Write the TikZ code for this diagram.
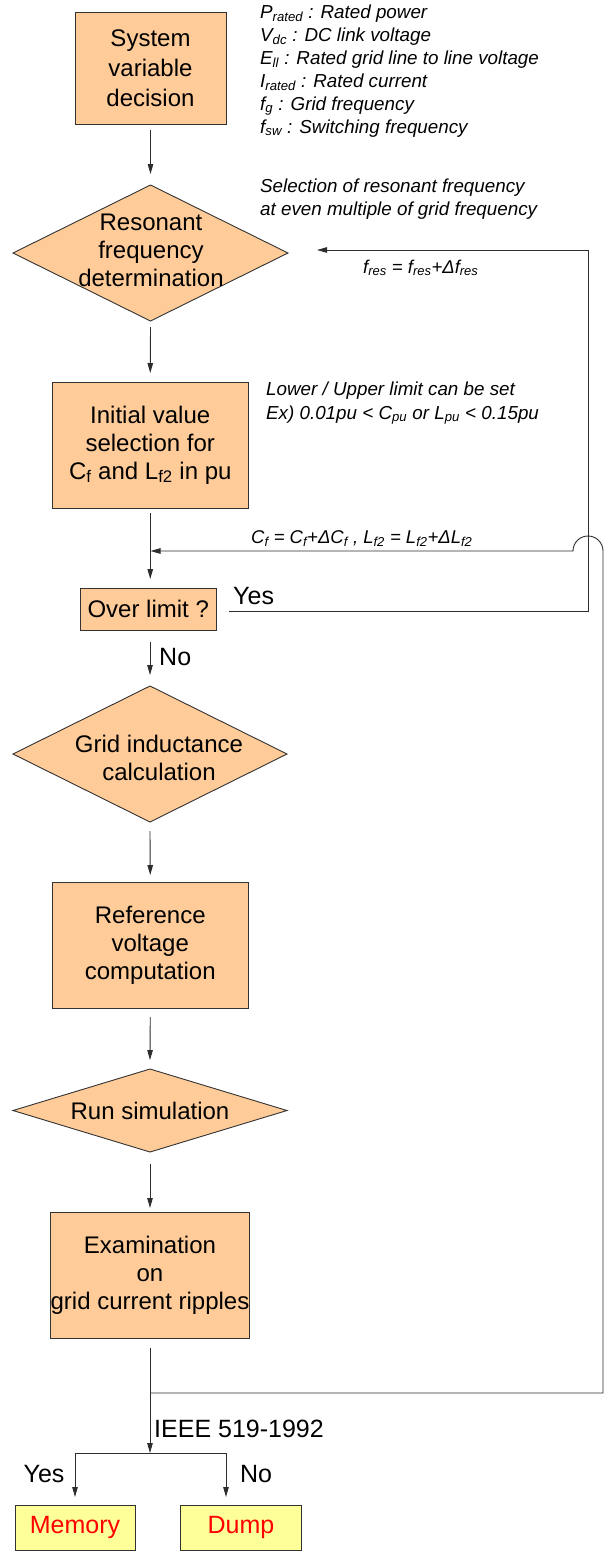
\documentclass[tikz,border=0pt]{standalone}
\usepackage{fontspec}
\setmainfont{Liberation Sans}
\usetikzlibrary{shapes.geometric,arrows.meta}
\definecolor{peach}{RGB}{255,204,153}
\definecolor{lyellow}{RGB}{255,255,153}
\definecolor{edgec}{RGB}{50,50,50}
\definecolor{wirec}{RGB}{45,45,45}
\begin{document}
\begin{tikzpicture}[x=1pt,y=-1pt,
  box/.style={draw=edgec, fill=peach, line width=0.9pt, inner sep=0pt, outer sep=0pt, align=center, font=\fontsize{24}{28}\selectfont},
  dia/.style={diamond, draw=edgec, fill=peach, line width=0.9pt, inner sep=0pt, outer sep=0pt},
  resbox/.style={draw=edgec, fill=lyellow, line width=0.9pt, inner sep=0pt, outer sep=0pt, text=red, font=\fontsize{25}{28}\selectfont},
  wire/.style={draw=wirec, line width=0.9pt},
  arr/.style={wire, -{Triangle[length=10pt,width=5.5pt]}},
  big/.style={font=\fontsize{24}{28}\selectfont, inner sep=0pt, align=center},
  lab/.style={font=\fontsize{25}{28}\selectfont, inner sep=0pt},
  note/.style={font=\fontsize{18.8}{23}\selectfont\itshape, inner sep=0pt, anchor=base west},
]
\useasboundingbox (0,0) rectangle (605,1551);

% boxes and diamonds
\node[box, minimum width=151pt, minimum height=112pt, font=\fontsize{24}{30}\selectfont] (b1) at (150.5,68) {System\\variable\\decision};
\node[dia, minimum width=275pt, minimum height=136pt] (d1) at (150.5,253) {};
\node[big] (t1) at (151,250) {Resonant\\frequency\\determination};
\node[box, minimum width=196.5pt, minimum height=126pt] (b2) at (150.25,445) {Initial value\\selection for\\C\textsubscript{f} and L\textsubscript{f2} in pu};
\node[box, minimum width=136.5pt, minimum height=42pt] (b3) at (148.25,609) {Over limit ?};
\node[dia, minimum width=274pt, minimum height=136pt] (d2) at (150,754) {};
\node[big] (t2) at (159,757.5) {Grid inductance\\calculation};
\node[box, minimum width=196.5pt, minimum height=126pt] (b4) at (150.25,945) {Reference\\voltage\\computation};
\node[dia, minimum width=274pt, minimum height=83pt] (d3) at (150,1110.5) {};
\node[big] (t3) at (150,1111) {Run simulation};
\node[box, minimum width=196pt, minimum height=126pt] (b5) at (150,1275) {Examination\\on\\grid current ripples};
\node[resbox, minimum width=120pt, minimum height=45pt] (m) at (75,1527.5) {Memory};
\node[resbox, minimum width=121pt, minimum height=45pt] (dp) at (241,1527.5) {Dump};

% main flow
\draw[arr] ([yshift=-6pt]b1.south) -- ([yshift=11pt]d1.north);
\draw[arr] ([yshift=-6pt]d1.south) -- ([yshift=9pt]b2.north);
\draw[arr] ([yshift=-5pt]b2.south) -- ([yshift=9pt]b2.south |- b3.north);
\draw[arr] ([yshift=-12pt]d2.north |- b3.south) -- ([yshift=11pt]d2.north);
\draw[arr] ([yshift=-9pt]d2.south) -- ([yshift=7pt]b4.north);
\draw[arr] ([yshift=-9pt]b4.south) -- ([yshift=9pt]d3.north);
\draw[arr] ([yshift=-12pt]d3.south) -- ([yshift=4pt]b5.north);

\coordinate (sp) at (150,1453);
\coordinate (spl) at (75,1453);
\coordinate (spr) at (226,1453);
\draw[arr] ([yshift=-10pt]b5.south) -- (sp);
\draw[wire] (spl) -- (spr);
\draw[arr] (spl) -- ([yshift=8pt]m.north);
\draw[arr] (spr) -- ([yshift=8pt]spr |- dp.north);

% feedback from "Over limit ?"
\coordinate (y0) at (229,611);
\coordinate (y1) at (588,611);
\coordinate (y2) at (588,250);
\coordinate (y3) at (317,250);
\draw[arr] (y0) -- (y1) -- (y2) -- (y3);

% feedback from ripple examination
\coordinate (f0) at (150,1393);
\coordinate (f1) at (603,1393);
\coordinate (f2) at (603,551);
\coordinate (f3) at (150.5,551);
\draw[arr] (f0) -- (f1) -- (f2) arc[start angle=0,end angle=180,radius=15pt] -- (f3);

% labels
\node[lab, anchor=west] (yes1) at (233,596) {Yes};
\node[lab, anchor=west] (no1) at (159,657) {No};
\node[lab, anchor=west] (ieee) at (154,1429) {IEEE 519-1992};
\node[lab] (yes2) at (44,1474) {Yes};
\node[lab] (no2) at (256,1474) {No};

% annotations
\node[note] (a1) at (260,18) {P\textsubscript{rated} : Rated power};
\node[note] (a2) at (260,41) {V\textsubscript{dc} : DC link voltage};
\node[note] (a3) at (260,64) {E\textsubscript{ll} : Rated grid line to line voltage};
\node[note] (a4) at (260,87) {I\textsubscript{rated} : Rated current};
\node[note] (a5) at (260,110) {f\textsubscript{g} : Grid frequency};
\node[note] (a6) at (260,133) {f\textsubscript{sw} : Switching frequency};
\node[note] (s1) at (260,192) {Selection of resonant frequency};
\node[note] (s2) at (260,215) {at even multiple of grid frequency};
\node[note] (l1) at (266,395) {Lower / Upper limit can be set};
\node[note] (l2) at (266,419) {Ex) 0.01pu < C\textsubscript{pu} or L\textsubscript{pu} < 0.15pu};
\node[note, font=\fontsize{18.5}{20}\selectfont\itshape] (fr) at (363,273) {f\textsubscript{res} = f\textsubscript{res}+Δf\textsubscript{res}};
\node[note, font=\fontsize{18.5}{20}\selectfont\itshape] (cl) at (251,543) {C\textsubscript{f} = C\textsubscript{f}+ΔC\textsubscript{f} , L\textsubscript{f2} = L\textsubscript{f2}+ΔL\textsubscript{f2}};
\end{tikzpicture}
\end{document}
